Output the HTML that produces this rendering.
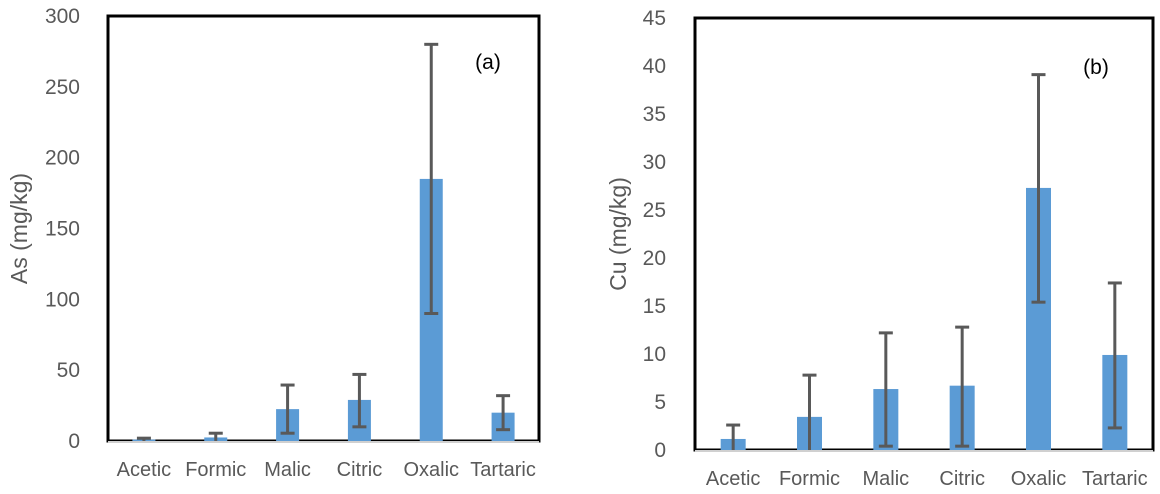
<!DOCTYPE html>
<html><head><meta charset="utf-8"><style>
html,body{margin:0;padding:0;background:#fff;}
svg{display:block;font-family:"Liberation Sans",sans-serif;}
</style></head><body>
<svg id="chart" width="1160" height="494" viewBox="0 0 1160 494" xmlns="http://www.w3.org/2000/svg"></svg>
<script>
const categories = ["Acetic","Formic","Malic","Citric","Oxalic","Tartaric"];
const asValues = [1, 2.5, 22.5, 29, 185, 20];
const asErrHigh = [2, 5.5, 39.5, 47, 280, 32];
const asErrLow = [0, 0, 5.5, 10, 90, 8];
const asTicks = [0, 50, 100, 150, 200, 250, 300];
const cuValues = [1.15, 3.45, 6.35, 6.7, 27.3, 9.9];
const cuErrHigh = [2.6, 7.8, 12.2, 12.8, 39.1, 17.4];
const cuErrLow = [0, 0, 0.4, 0.4, 15.4, 2.3];
const cuTicks = [0, 5, 10, 15, 20, 25, 30, 35, 40, 45];

const NS = "http://www.w3.org/2000/svg";
const svg = document.getElementById("chart");
function mk(tag, attrs, parent) {
  const e = document.createElementNS(NS, tag);
  for (const k in attrs) e.setAttribute(k, attrs[k]);
  (parent || svg).appendChild(e);
  return e;
}

function panel(cfg) {
  const g = mk("g", {});
  
  
  const {x0, x1, y0, y1, max} = cfg;
  const yScale = v => y1 - (v / max) * (y1 - y0);
  const band = (x1 - x0) / categories.length;
  const xCenter = i => x0 + band * (i + 0.5);

  const box = mk("rect", {x: x0, y: y0, width: x1 - x0, height: y1 - y0, fill: "none", stroke: "#000", "stroke-width": 3}, g);
  
  

  cfg.ticks.forEach(t => {
    const tx = mk("text", {x: cfg.tickX, y: yScale(t) + 7, "text-anchor": "end", "font-size": 21, fill: "#595959"}, g);
    tx.textContent = t;
    
    
  });

  categories.forEach((c, i) => {
    const cx = xCenter(i);
    const top = yScale(cfg.values[i]);
    const bar = mk("rect", {x: cx - cfg.barW / 2, y: top, width: cfg.barW, height: y1 - top, fill: "#5b9bd5"}, g);
    
    
    const hi = yScale(cfg.errHigh[i]), lo = yScale(cfg.errLow[i]);
    const eg = mk("g", {stroke: "#595959", "stroke-width": 3}, g);
    
    
    mk("line", {x1: cx, x2: cx, y1: hi, y2: lo}, eg);
    mk("line", {x1: cx - 7, x2: cx + 7, y1: hi, y2: hi}, eg);
    if (cfg.errLow[i] > 0) mk("line", {x1: cx - 7, x2: cx + 7, y1: lo, y2: lo}, eg);
    const lb = mk("text", {x: cx, y: cfg.labelY, "text-anchor": "middle", "font-size": 20, fill: "#595959"}, g);
    lb.textContent = c;
    
    
  });

  const axis = mk("line", {x1: x0, x2: x1, y1: y1 + 1, y2: y1 + 1, stroke: "#d0d0d0", "stroke-width": 2}, g);
  
  

  const yt = mk("text", {x: 0, y: 0, "text-anchor": "middle", "font-size": 23, fill: "#595959",
    transform: `translate(${cfg.titleX},${(y0 + y1) / 2}) rotate(-90)`}, g);
  yt.textContent = cfg.title;
  
  

  const pl = mk("text", {x: cfg.tagX, y: cfg.tagY, "text-anchor": "middle", "font-size": 21, fill: "#000"}, g);
  pl.textContent = cfg.tag;
  
  
}

panel({name: "panel-a-arsenic", x0: 108, x1: 539, y0: 16, y1: 441, max: 300, ticks: asTicks,
  values: asValues, errHigh: asErrHigh, errLow: asErrLow, barW: 23, tickX: 80, labelY: 476,
  title: "As (mg/kg)", titleX: 27, tag: "(a)", tagX: 488, tagY: 69});
panel({name: "panel-b-copper", x0: 695, x1: 1153, y0: 18, y1: 450, max: 45, ticks: cuTicks,
  values: cuValues, errHigh: cuErrHigh, errLow: cuErrLow, barW: 25, tickX: 666, labelY: 485,
  title: "Cu (mg/kg)", titleX: 626, tag: "(b)", tagX: 1096, tagY: 74});
</script>
</body></html>
